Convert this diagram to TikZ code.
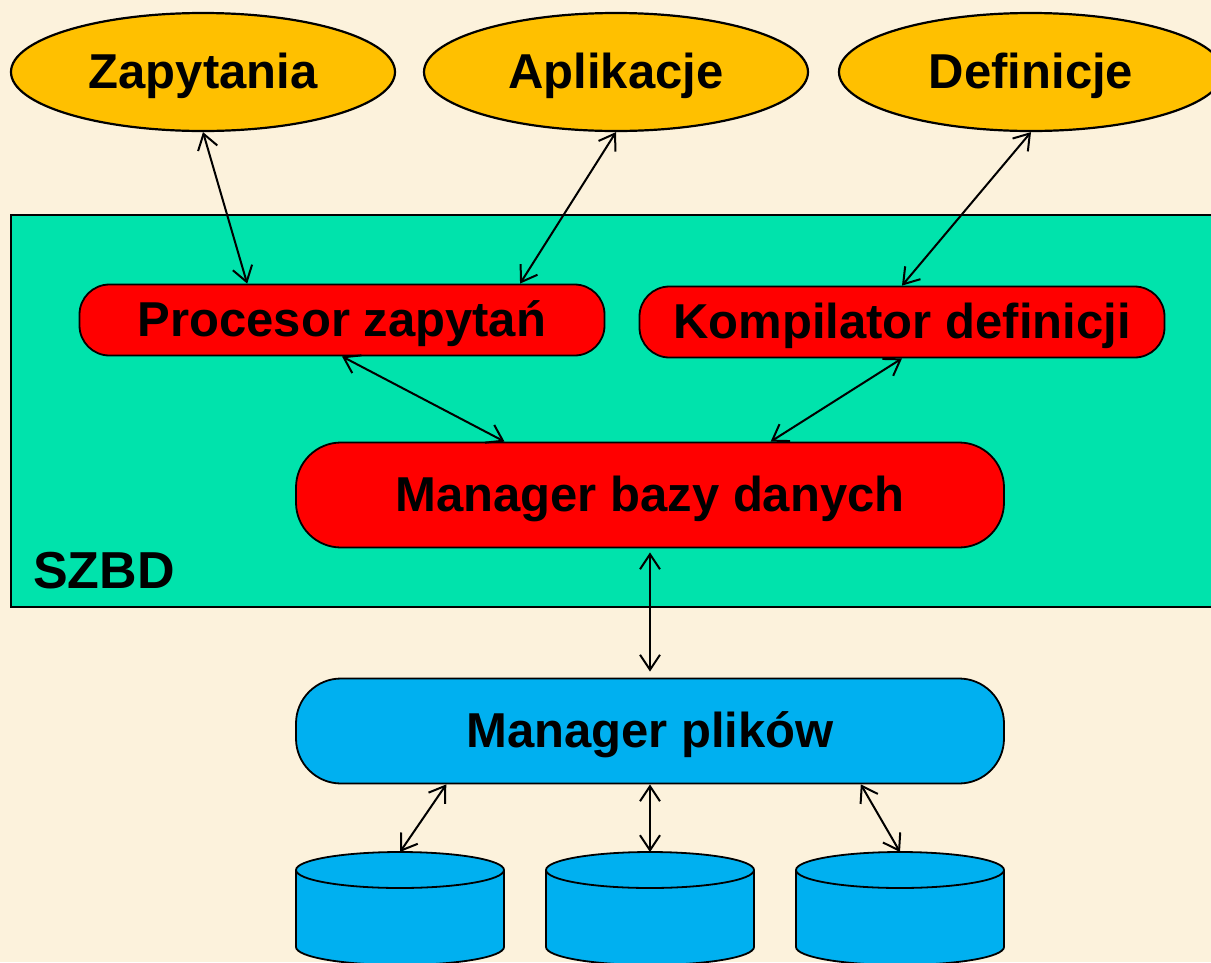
\documentclass[tikz,border=0pt]{standalone}
\usepackage{fontspec}
\setmainfont{Liberation Sans}
\usepackage{tikz}
\usetikzlibrary{shapes.geometric, arrows.meta, calc}
\definecolor{Cream}{RGB}{252,242,220}
\definecolor{Gold}{RGB}{255,192,0}
\definecolor{Sea}{RGB}{0,227,172}
\definecolor{Sky}{RGB}{0,176,240}

\begin{document}
\begin{tikzpicture}[x=1pt, y=-1pt,
  every node/.style={font=\fontsize{49}{58}\selectfont\bfseries, inner sep=0pt, text height=42pt, text depth=10pt},
  source/.style={ellipse, draw, line width=2.2pt, fill=Gold, minimum width=384pt, minimum height=118pt},
  module/.style={rectangle, draw, line width=1.8pt, fill=red, rounded corners=30pt, minimum width=525pt, minimum height=71pt},
  manager/.style={module, rounded corners=45pt, minimum width=708pt, minimum height=105pt},
  link/.style={{Straight Barb[length=15pt,width=20pt]}-{Straight Barb[length=15pt,width=20pt]}, line width=2pt}]
		\fill[Cream] (0,0) rectangle (1211,962);
		\useasboundingbox (0,0) rectangle (1211,962);
		
		\draw[fill=Sea, line width=1.8pt] (11,215) rectangle (1225,607);
		\node[anchor=base west, font=\fontsize{52}{60}\selectfont\bfseries] (szbd) at (33,588) {SZBD};
		
		\node[source] (zap) at (203,72) {Zapytania};
		\node[source] (apl) at (616,72) {Aplikacje};
		\node[source] (def) at (1031,72) {Definicje};
		
		\node[module] (proc) at (342,320) {Procesor zapytań};
		\node[module] (komp) at (902,322) {Kompilator definicji};
		\node[manager] (mbd) at (650,495) {Manager bazy danych};
		\node[manager, fill=Sky] (mp) at (650,731) {Manager plików};
		
		\foreach \cx/\nm in {400/cylA, 650/cylB, 900/cylC} {
			\draw[fill=Sky, line width=1.8pt] (\cx-104,870) -- (\cx-104,947) arc[start angle=180, end angle=360, x radius=104pt, y radius=18pt] -- (\cx+104,870);
			\draw[fill=Sky, line width=1.8pt] (\cx,870) ellipse [x radius=104pt, y radius=18pt];
			\coordinate (\nm) at (\cx,852);
		}
		
		\draw[link] (zap.south) -- ($(proc.north west)!0.32!(proc.north east)$);
		\draw[link] (apl.south) -- ($(proc.north west)!0.838!(proc.north east)$);
		\draw[link] (def.south) -- (komp.north);
		\draw[link] (proc.south) -- ($(mbd.north west)!0.295!(mbd.north east)$);
		\draw[link] (komp.south) -- ($(mbd.north west)!0.67!(mbd.north east)$);
		\draw[link, shorten <=4pt, shorten >=6pt] (mbd.south) -- (mp.north);
		\draw[link] ($(mp.south west)!0.213!(mp.south east)$) -- (cylA);
		\draw[link] (mp.south) -- (cylB);
		\draw[link] ($(mp.south west)!0.797!(mp.south east)$) -- (cylC);
	\end{tikzpicture}
\end{document}
